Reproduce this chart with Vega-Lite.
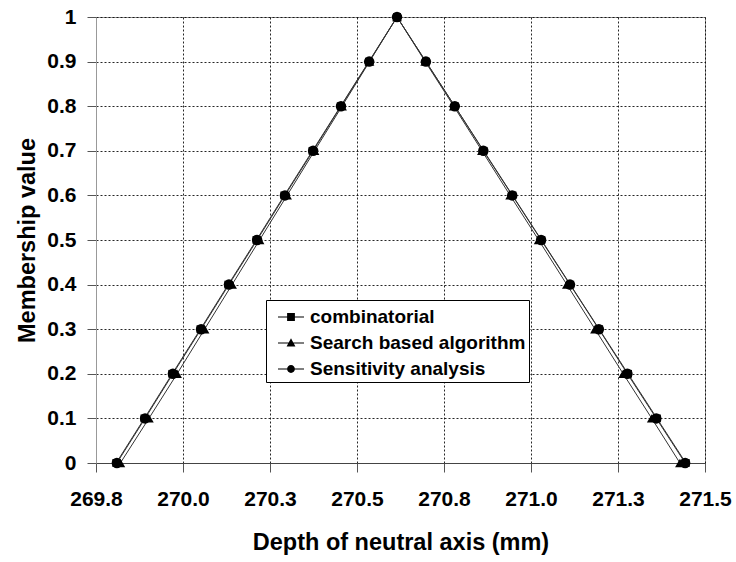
{
  "$schema": "https://vega.github.io/schema/vega-lite/v6.json",
  "width": 609,
  "height": 446,
  "autosize": "none",
  "padding": {"left": 96, "top": 17, "right": 31, "bottom": 99},
  "background": "white",
  "config": {
    "font": "Liberation Sans",
    "view": {"stroke": "#999999", "strokeWidth": 1},
    "axis": {
      "labelFont": "Liberation Sans",
      "labelFontSize": 21,
      "labelFontWeight": "bold",
      "labelColor": "black",
      "titleFont": "Liberation Sans",
      "titleFontSize": 23.5,
      "titleFontWeight": "bold",
      "titleColor": "black",
      "grid": true,
      "gridColor": "black",
      "gridDash": [2, 2],
      "gridOpacity": 0.85,
      "tickSize": 9,
      "tickColor": "#555555"
    }
  },
  "datasets": {
    "pts": [
      {"series": "combinatorial", "x": 269.808, "y": 0},
      {"series": "combinatorial", "x": 269.889, "y": 0.1},
      {"series": "combinatorial", "x": 269.969, "y": 0.2},
      {"series": "combinatorial", "x": 270.050, "y": 0.3},
      {"series": "combinatorial", "x": 270.130, "y": 0.4},
      {"series": "combinatorial", "x": 270.211, "y": 0.5},
      {"series": "combinatorial", "x": 270.291, "y": 0.6},
      {"series": "combinatorial", "x": 270.372, "y": 0.7},
      {"series": "combinatorial", "x": 270.453, "y": 0.8},
      {"series": "combinatorial", "x": 270.534, "y": 0.9},
      {"series": "combinatorial", "x": 270.615, "y": 1},
      {"series": "combinatorial", "x": 270.698, "y": 0.9},
      {"series": "combinatorial", "x": 270.781, "y": 0.8},
      {"series": "combinatorial", "x": 270.864, "y": 0.7},
      {"series": "combinatorial", "x": 270.947, "y": 0.6},
      {"series": "combinatorial", "x": 271.030, "y": 0.5},
      {"series": "combinatorial", "x": 271.113, "y": 0.4},
      {"series": "combinatorial", "x": 271.196, "y": 0.3},
      {"series": "combinatorial", "x": 271.279, "y": 0.2},
      {"series": "combinatorial", "x": 271.362, "y": 0.1},
      {"series": "combinatorial", "x": 271.445, "y": 0},
      {"series": "Search based algorithm", "x": 269.820, "y": 0},
      {"series": "Search based algorithm", "x": 269.902, "y": 0.1},
      {"series": "Search based algorithm", "x": 269.983, "y": 0.2},
      {"series": "Search based algorithm", "x": 270.062, "y": 0.3},
      {"series": "Search based algorithm", "x": 270.141, "y": 0.4},
      {"series": "Search based algorithm", "x": 270.220, "y": 0.5},
      {"series": "Search based algorithm", "x": 270.299, "y": 0.6},
      {"series": "Search based algorithm", "x": 270.378, "y": 0.7},
      {"series": "Search based algorithm", "x": 270.457, "y": 0.8},
      {"series": "Search based algorithm", "x": 270.536, "y": 0.9},
      {"series": "Search based algorithm", "x": 270.615, "y": 1},
      {"series": "Search based algorithm", "x": 270.696, "y": 0.9},
      {"series": "Search based algorithm", "x": 270.778, "y": 0.8},
      {"series": "Search based algorithm", "x": 270.859, "y": 0.7},
      {"series": "Search based algorithm", "x": 270.940, "y": 0.6},
      {"series": "Search based algorithm", "x": 271.022, "y": 0.5},
      {"series": "Search based algorithm", "x": 271.103, "y": 0.4},
      {"series": "Search based algorithm", "x": 271.184, "y": 0.3},
      {"series": "Search based algorithm", "x": 271.265, "y": 0.2},
      {"series": "Search based algorithm", "x": 271.347, "y": 0.1},
      {"series": "Search based algorithm", "x": 271.428, "y": 0},
      {"series": "Sensitivity analysis", "x": 269.810, "y": 0},
      {"series": "Sensitivity analysis", "x": 269.891, "y": 0.1},
      {"series": "Sensitivity analysis", "x": 269.971, "y": 0.2},
      {"series": "Sensitivity analysis", "x": 270.052, "y": 0.3},
      {"series": "Sensitivity analysis", "x": 270.132, "y": 0.4},
      {"series": "Sensitivity analysis", "x": 270.213, "y": 0.5},
      {"series": "Sensitivity analysis", "x": 270.293, "y": 0.6},
      {"series": "Sensitivity analysis", "x": 270.374, "y": 0.7},
      {"series": "Sensitivity analysis", "x": 270.454, "y": 0.8},
      {"series": "Sensitivity analysis", "x": 270.535, "y": 0.9},
      {"series": "Sensitivity analysis", "x": 270.615, "y": 1},
      {"series": "Sensitivity analysis", "x": 270.698, "y": 0.9},
      {"series": "Sensitivity analysis", "x": 270.781, "y": 0.8},
      {"series": "Sensitivity analysis", "x": 270.863, "y": 0.7},
      {"series": "Sensitivity analysis", "x": 270.946, "y": 0.6},
      {"series": "Sensitivity analysis", "x": 271.029, "y": 0.5},
      {"series": "Sensitivity analysis", "x": 271.112, "y": 0.4},
      {"series": "Sensitivity analysis", "x": 271.195, "y": 0.3},
      {"series": "Sensitivity analysis", "x": 271.277, "y": 0.2},
      {"series": "Sensitivity analysis", "x": 271.360, "y": 0.1},
      {"series": "Sensitivity analysis", "x": 271.443, "y": 0}
    ],
    "names": [
      {"name": "combinatorial"},
      {"name": "Search based algorithm"},
      {"name": "Sensitivity analysis"}
    ]
  },
  "encoding": {
    "x": {
      "field": "x",
      "type": "quantitative",
      "scale": {"domain": [269.75, 271.5], "nice": false, "zero": false},
      "axis": {
        "title": "Depth of neutral axis (mm)",
        "values": [269.75, 270.0, 270.25, 270.5, 270.75, 271.0, 271.25, 271.5],
        "format": ".1f",
        "labelPadding": 16,
        "titlePadding": 21,
        "domainColor": "#444444",
        "labelFlush": false,
        "labelOverlap": false
      }
    },
    "y": {
      "field": "y",
      "type": "quantitative",
      "scale": {"domain": [0, 1], "nice": false},
      "axis": {
        "title": "Membership value",
        "values": [0, 0.1, 0.2, 0.3, 0.4, 0.5, 0.6, 0.7, 0.8, 0.9, 1],
        "format": "~f",
        "labelPadding": 11,
        "titlePadding": 7,
        "domainColor": "#999999",
        "labelFlush": false,
        "labelOverlap": false
      }
    }
  },
  "layer": [
    {
      "data": {"name": "pts"},
      "mark": {"type": "line", "color": "#333333", "strokeWidth": 1},
      "encoding": {"detail": {"field": "series", "type": "nominal"}}
    },
    {
      "data": {"name": "pts"},
      "transform": [{"filter": "datum.series === 'combinatorial'"}],
      "mark": {"type": "point", "shape": "square", "filled": true, "color": "black", "opacity": 1, "size": 60}
    },
    {
      "data": {"name": "pts"},
      "transform": [{"filter": "datum.series === 'Search based algorithm'"}],
      "mark": {"type": "point", "shape": "triangle-up", "filled": true, "color": "black", "opacity": 1, "size": 95}
    },
    {
      "data": {"name": "pts"},
      "transform": [{"filter": "datum.series === 'Sensitivity analysis'"}],
      "mark": {"type": "point", "shape": "circle", "filled": true, "color": "black", "opacity": 1, "size": 110}
    },
    {
      "data": {"name": "names"},
      "mark": {"type": "point", "filled": true, "color": "black", "opacity": 0},
      "encoding": {
        "x": {"datum": 270.6},
        "y": {"datum": 0.5},
        "shape": {
          "field": "name",
          "type": "nominal",
          "scale": {
            "domain": ["combinatorial", "Search based algorithm", "Sensitivity analysis"],
            "range": [
              "M-1,-0.04H1V0.04H-1ZM-0.3,-0.3H0.3V0.3H-0.3Z",
              "M-1,-0.04H1V0.04H-1ZM0,-0.36L0.34,0.26L-0.34,0.26Z",
              "M-1,-0.04H1V0.04H-1ZM0.3,0A0.3,0.3,0,1,1,-0.3,0A0.3,0.3,0,1,1,0.3,0Z"
            ]
          },
          "legend": {
            "title": null,
            "orient": "none",
            "legendX": 170,
            "legendY": 283,
            "padding": 3,
            "fillColor": "white",
            "strokeColor": "black",
            "symbolSize": 676,
            "symbolOffset": 8,
            "labelFont": "Liberation Sans",
            "labelFontSize": 19,
            "labelFontWeight": "bold",
            "labelColor": "black",
            "labelOffset": 5,
            "rowPadding": 2,
            "labelLimit": 400,
            "encode": {
              "symbols": {
                "update": {
                  "opacity": {"value": 1},
                  "fill": {"value": "black"},
                  "fillOpacity": {"value": 1}
                }
              }
            }
          }
        }
      }
    }
  ]
}
